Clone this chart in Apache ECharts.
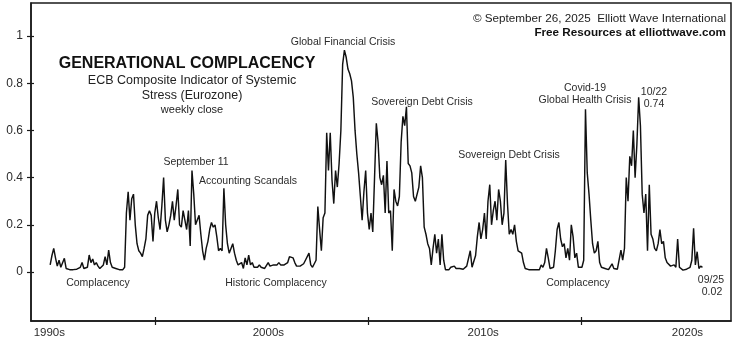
<!DOCTYPE html>
<html><head><meta charset="utf-8">
<script src="https://cdn.jsdelivr.net/npm/echarts@6/dist/echarts.min.js"></script>
<style>html,body{margin:0;padding:0;background:#fff}#c{width:740px;height:344px}</style>
</head><body><div id="c"></div>
<script>
// Monthly readings of the ECB CISS (Eurozone), Jan..Dec of each year
const ciss1995 = [0.03,0.07,0.10,0.06,0.025,0.05,0.02,0.02,0.058,0.015,0.01,0.01];
const ciss1996 = [0.012,0.01,0.01,0.012,0.01,0.02,0.04,0.015,0.012,0.02,0.072,0.04];
const ciss1997 = [0.055,0.03,0.04,0.025,0.015,0.02,0.03,0.065,0.03,0.093,0.04,0.02];
const ciss1998 = [0.025,0.015,0.02,0.01,0.015,0.01,0.02,0.25,0.34,0.22,0.31,0.33];
const ciss1999 = [0.20,0.12,0.09,0.08,0.065,0.10,0.14,0.24,0.26,0.24,0.13,0.25];
const ciss2000 = [0.30,0.23,0.18,0.28,0.40,0.22,0.17,0.20,0.24,0.30,0.22,0.28];
const ciss2001 = [0.35,0.20,0.19,0.26,0.22,0.18,0.26,0.11,0.43,0.33,0.20,0.22];
const ciss2002 = [0.24,0.16,0.09,0.05,0.10,0.13,0.18,0.21,0.19,0.20,0.15,0.09];
const ciss2003 = [0.10,0.09,0.355,0.20,0.12,0.08,0.10,0.12,0.08,0.05,0.03,0.025];
const ciss2004 = [0.04,0.015,0.06,0.03,0.072,0.03,0.04,0.02,0.025,0.02,0.03,0.02];
const ciss2005 = [0.02,0.015,0.015,0.04,0.025,0.02,0.03,0.025,0.03,0.04,0.03,0.025];
const ciss2006 = [0.03,0.025,0.04,0.065,0.07,0.06,0.04,0.025,0.03,0.025,0.03,0.035];
const ciss2007 = [0.05,0.055,0.08,0.03,0.02,0.015,0.05,0.277,0.18,0.09,0.23,0.25];
const ciss2008 = [0.59,0.43,0.59,0.39,0.29,0.43,0.36,0.46,0.60,0.88,0.94,0.91];
const ciss2009 = [0.86,0.84,0.81,0.74,0.60,0.50,0.42,0.32,0.22,0.34,0.43,0.25];
const ciss2010 = [0.18,0.25,0.17,0.40,0.63,0.55,0.40,0.37,0.41,0.25,0.47,0.25];
const ciss2011 = [0.26,0.09,0.35,0.30,0.28,0.32,0.55,0.66,0.62,0.70,0.46,0.45];
const ciss2012 = [0.42,0.32,0.30,0.30,0.36,0.45,0.40,0.19,0.16,0.12,0.10,0.03];
const ciss2013 = [0.10,0.16,0.08,0.14,0.03,0.16,0.05,0.01,0.01,0.01,0.02,0.02];
const ciss2014 = [0.025,0.015,0.01,0.015,0.01,0.012,0.015,0.025,0.03,0.09,0.02,0.015];
const ciss2015 = [0.07,0.15,0.21,0.14,0.18,0.25,0.14,0.30,0.37,0.20,0.26,0.30];
const ciss2016 = [0.22,0.35,0.30,0.20,0.25,0.475,0.29,0.16,0.18,0.16,0.20,0.13];
const ciss2017 = [0.09,0.085,0.08,0.04,0.015,0.012,0.01,0.015,0.01,0.012,0.01,0.008];
const ciss2018 = [0.01,0.03,0.02,0.04,0.10,0.06,0.015,0.02,0.02,0.09,0.18,0.21];
const ciss2019 = [0.14,0.107,0.12,0.06,0.10,0.05,0.20,0.15,0.06,0.08,0.02,0.025];
const ciss2020 = [0.02,0.05,0.69,0.42,0.33,0.22,0.12,0.08,0.09,0.13,0.04,0.02];
const ciss2021 = [0.012,0.015,0.013,0.01,0.015,0.035,0.015,0.01,0.012,0.015,0.093,0.05];
const ciss2022 = [0.10,0.40,0.30,0.49,0.45,0.60,0.40,0.54,0.74,0.62,0.33,0.25];
const ciss2023 = [0.33,0.09,0.37,0.16,0.14,0.10,0.09,0.12,0.18,0.12,0.13,0.06];
const ciss2024 = [0.04,0.035,0.025,0.02,0.03,0.02,0.14,0.02,0.012,0.008,0.01,0.012];
const ciss2025 = [0.015,0.02,0.05,0.185,0.03,0.086,0.015,0.025,0.02];

const decadeLabels = ['1990s','2000s','2010s','2020s'];
const decadeLabelPositions = [1995.0, 2005.3, 2015.4, 2025.0];
const decadeTicks = [2000, 2010, 2020];
const yTicks = [0, 0.2, 0.4, 0.6, 0.8, 1];

const yearly = [
  [1995,ciss1995],[1996,ciss1996],[1997,ciss1997],[1998,ciss1998],[1999,ciss1999],
  [2000,ciss2000],[2001,ciss2001],[2002,ciss2002],[2003,ciss2003],[2004,ciss2004],
  [2005,ciss2005],[2006,ciss2006],[2007,ciss2007],[2008,ciss2008],[2009,ciss2009],
  [2010,ciss2010],[2011,ciss2011],[2012,ciss2012],[2013,ciss2013],[2014,ciss2014],
  [2015,ciss2015],[2016,ciss2016],[2017,ciss2017],[2018,ciss2018],[2019,ciss2019],
  [2020,ciss2020],[2021,ciss2021],[2022,ciss2022],[2023,ciss2023],[2024,ciss2024],
  [2025,ciss2025]
];
const seriesData = [];
yearly.forEach(([yr, arr]) => arr.forEach((v, i) => seriesData.push([yr + (i + 0.5) / 12, v])));

const FONT = '"Liberation Sans", Arial, Helvetica, sans-serif';
const INK = '#1a1a1a';
const TXT = '#2b2b2b';

const X_MIN = 1994.14, X_MAX = 2027.05;
const Y_MIN = -0.2076, Y_MAX = 1.14;

function txt(text, x, y, size, opts) {
  opts = opts || {};
  return {
    type: 'text', x: x, y: y, z: 10,
    style: {
      text: text, align: opts.align || 'center', verticalAlign: 'middle',
      fontSize: size, fontFamily: FONT, fontWeight: opts.bold ? 'bold' : 'normal',
      fill: opts.color || TXT
    }
  };
}

const chart = echarts.init(document.getElementById('c'), null, {renderer: 'canvas'});
chart.setOption({
  animation: false,
  grid: {left: 31, right: 9, top: 3, bottom: 23, show: true, borderColor: INK, borderWidth: 1.5, backgroundColor: 'transparent'},
  xAxis: [
    {
      type: 'value', min: X_MIN, max: X_MAX, position: 'bottom',
      axisLine: {show: true, onZero: false, lineStyle: {color: INK, width: 1.5}},
      axisTick: {show: true, customValues: decadeTicks, length: 4, lineStyle: {color: INK, width: 1.2}},
      axisLabel: {
        show: true, customValues: decadeLabelPositions, margin: 6,
        color: TXT, fontSize: 11.5, fontFamily: FONT,
        formatter: function (v) {
          let best = 0;
          decadeLabelPositions.forEach((p, i) => { if (Math.abs(p - v) < Math.abs(decadeLabelPositions[best] - v)) best = i; });
          return decadeLabels[best];
        }
      },
      splitLine: {show: false}
    },
    {
      type: 'value', min: X_MIN, max: X_MAX, position: 'bottom',
      axisLine: {show: false, onZero: false},
      axisTick: {show: true, inside: true, customValues: decadeTicks, length: 4, lineStyle: {color: INK, width: 1.2}},
      axisLabel: {show: false}, splitLine: {show: false}
    }
  ],
  yAxis: [
    {
      type: 'value', min: Y_MIN, max: Y_MAX, position: 'left',
      axisLine: {show: true, onZero: false, lineStyle: {color: INK, width: 1.5}},
      axisTick: {show: true, customValues: yTicks, length: 4, lineStyle: {color: INK, width: 1.2}},
      axisLabel: {show: true, customValues: yTicks, margin: 8, color: TXT, fontSize: 12, fontFamily: FONT,
        formatter: function (v) { return String(Math.round(v * 10) / 10); }},
      splitLine: {show: false}
    },
    {
      type: 'value', min: Y_MIN, max: Y_MAX, position: 'left',
      axisLine: {show: false, onZero: false},
      axisTick: {show: true, inside: true, customValues: yTicks, length: 3, lineStyle: {color: INK, width: 1.2}},
      axisLabel: {show: false}, splitLine: {show: false}
    }
  ],
  series: [{
    type: 'line', xAxisIndex: 0, yAxisIndex: 0, data: seriesData,
    showSymbol: false, symbol: 'none', smooth: false,
    lineStyle: {color: '#111', width: 1.45}
  }],
  graphic: [
    txt('© September 26, 2025  Elliott Wave International', 726, 19, 11.7, {align: 'right', color: '#222'}),
    txt('Free Resources at elliottwave.com', 726, 33, 11.7, {align: 'right', bold: true, color: '#111'}),
    txt('GENERATIONAL COMPLACENCY', 187, 64, 16, {bold: true, color: '#111'}),
    txt('ECB Composite Indicator of Systemic', 192, 81, 12.5, {color: '#222'}),
    txt('Stress (Eurozone)', 192, 96, 12.5, {color: '#222'}),
    txt('weekly close', 192, 110, 11, {color: '#222'}),
    txt('Global Financial Crisis', 343, 42, 10.5),
    txt('Sovereign Debt Crisis', 422, 102, 10.5),
    txt('September 11', 196, 162, 10.5),
    txt('Accounting Scandals', 248, 181, 10.5),
    txt('Sovereign Debt Crisis', 509, 155, 10.5),
    txt('Covid-19', 585, 88, 10.5),
    txt('Global Health Crisis', 585, 100, 10.5),
    txt('10/22', 654, 92, 10.5),
    txt('0.74', 654, 104, 10.5),
    txt('Complacency', 98, 283, 10.5),
    txt('Historic Complacency', 276, 283, 10.5),
    txt('Complacency', 578, 283, 10.5),
    txt('09/25', 711, 280, 10.5),
    txt('0.02', 712, 292, 10.5)
  ]
});
</script>
</body></html>
